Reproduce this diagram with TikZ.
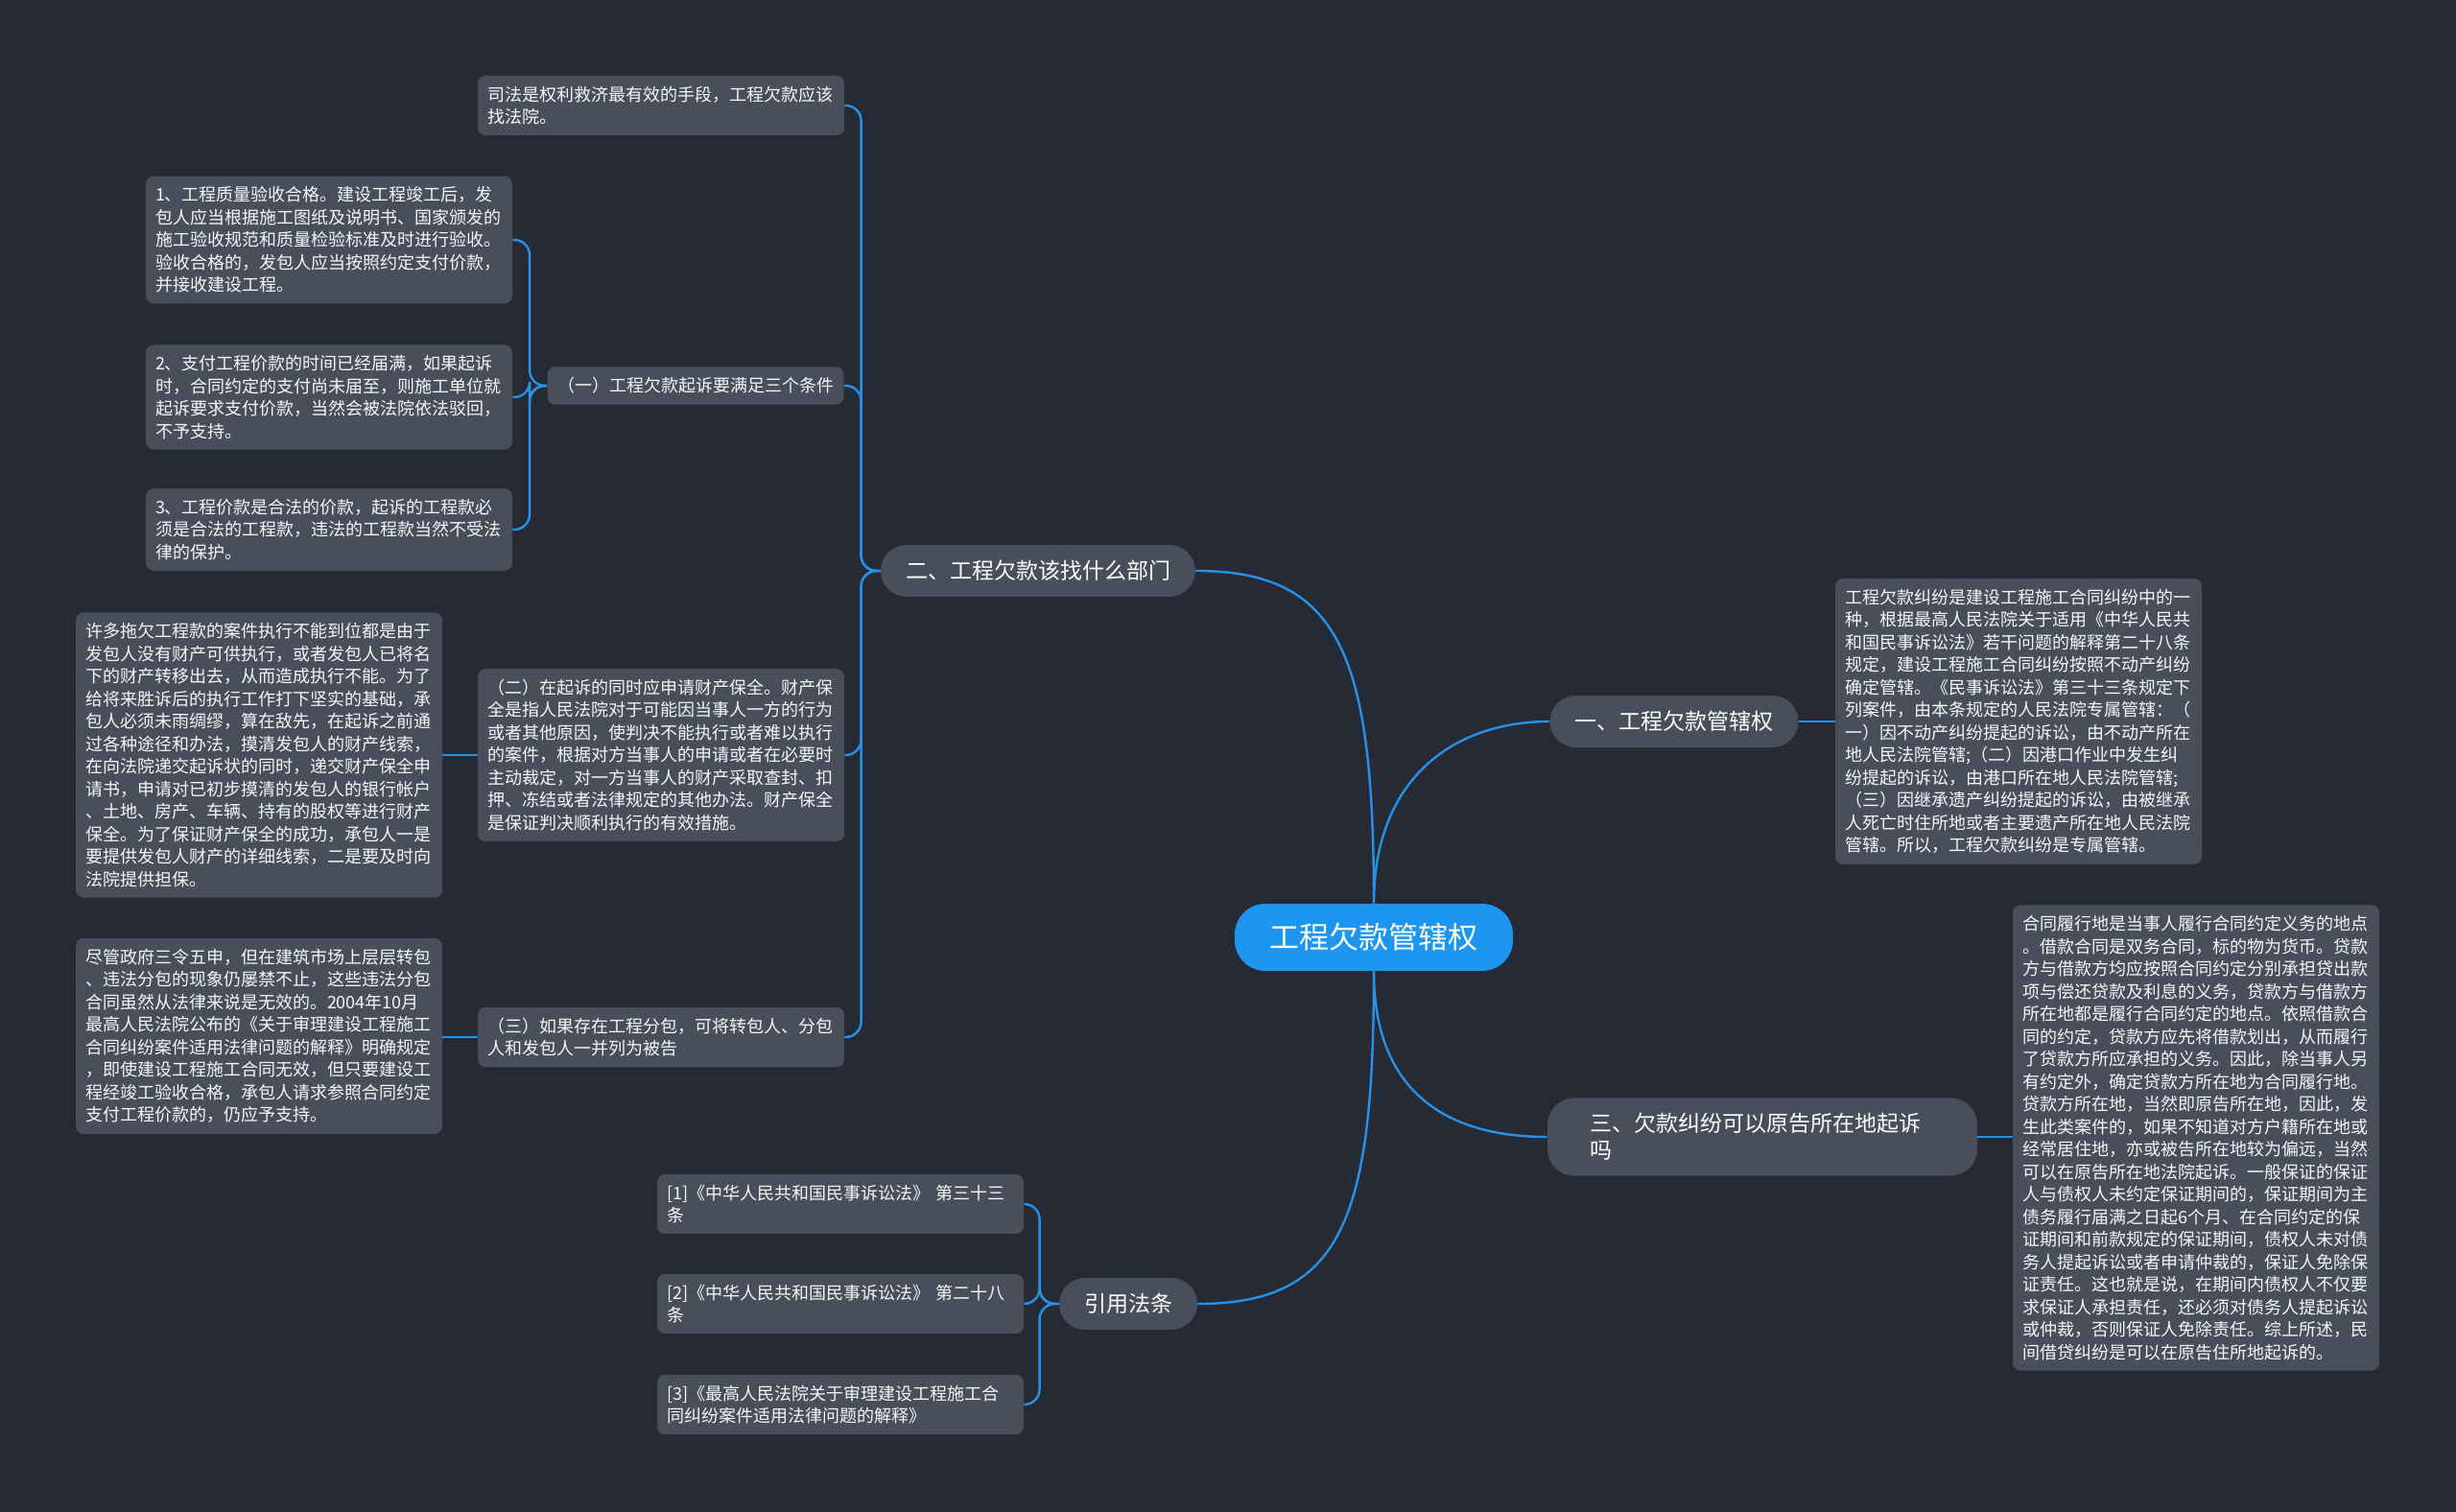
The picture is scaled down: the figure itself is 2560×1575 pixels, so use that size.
\documentclass[tikz,border=0pt]{standalone}
\usepackage{fontspec}
\setmainfont{Noto Sans CJK SC}
\definecolor{bg}{RGB}{38,42,53}
\definecolor{nodegray}{RGB}{73,78,91}
\definecolor{linkblue}{RGB}{40,145,230}
\definecolor{rootblue}{RGB}{30,150,240}
\definecolor{leaftext}{RGB}{245,246,248}
\tikzset{
  boxbase/.style={fill=nodegray, rounded corners=4pt, text=leaftext,
    font=\fontsize{9}{11.75}\selectfont, inner xsep=5pt, inner ysep=5.5pt},
  leaf/.style={boxbase, align=left, text width=181pt},
  branch/.style={fill=nodegray, rounded corners=13.5pt, text=white,
    font=\fontsize{11.5}{14}\selectfont, minimum height=27pt, inner xsep=13pt},
  rootbox/.style={fill=rootblue, rounded corners=16pt, text=white,
    font=\fontsize{15.5}{18}\selectfont, minimum height=35pt, minimum width=145pt},
  link/.style={draw=linkblue, line width=1.2pt}
}
\begin{document}
\begin{tikzpicture}[x=0.5pt,y=-0.5pt]
\useasboundingbox (0,0) rectangle (2560,1575);
\fill[bg] (-20,-20) rectangle (2580,1595);

% root
\node[rootbox] (root) at (1432,977) {工程欠款管辖权};

% branches
\node[branch] (b1) at (1745,752) {一、工程欠款管辖权};
\node[branch, rounded corners=14pt, align=left, text width=180pt, inner xsep=22pt, inner ysep=8pt] (b3) at (1837,1185) {三、欠款纠纷可以原告所在地起诉\\吗};
\node[branch] (b2) at (1082,595) {二、工程欠款该找什么部门};
\node[branch] (b4) at (1176,1359) {引用法条};

% right leaves
\node[leaf] (l1) at (2104,752) {工程欠款纠纷是建设工程施工合同纠纷中的一\\种，根据最高人民法院关于适用《中华人民共\\和国民事诉讼法》若干问题的解释第二十八条\\规定，建设工程施工合同纠纷按照不动产纠纷\\确定管辖。《民事诉讼法》第三十三条规定下\\列案件，由本条规定的人民法院专属管辖：（\\一）因不动产纠纷提起的诉讼，由不动产所在\\地人民法院管辖;（二）因港口作业中发生纠\\纷提起的诉讼，由港口所在地人民法院管辖;\\（三）因继承遗产纠纷提起的诉讼，由被继承\\人死亡时住所地或者主要遗产所在地人民法院\\管辖。所以，工程欠款纠纷是专属管辖。};

\node[leaf] (l3) at (2289,1186) {合同履行地是当事人履行合同约定义务的地点\\。借款合同是双务合同，标的物为货币。贷款\\方与借款方均应按照合同约定分别承担贷出款\\项与偿还贷款及利息的义务，贷款方与借款方\\所在地都是履行合同约定的地点。依照借款合\\同的约定，贷款方应先将借款划出，从而履行\\了贷款方所应承担的义务。因此，除当事人另\\有约定外，确定贷款方所在地为合同履行地。\\贷款方所在地，当然即原告所在地，因此，发\\生此类案件的，如果不知道对方户籍所在地或\\经常居住地，亦或被告所在地较为偏远，当然\\可以在原告所在地法院起诉。一般保证的保证\\人与债权人未约定保证期间的，保证期间为主\\债务履行届满之日起6个月、在合同约定的保\\证期间和前款规定的保证期间，债权人未对债\\务人提起诉讼或者申请仲裁的，保证人免除保\\证责任。这也就是说，在期间内债权人不仅要\\求保证人承担责任，还必须对债务人提起诉讼\\或仲裁，否则保证人免除责任。综上所述，民\\间借贷纠纷是可以在原告住所地起诉的。};

% children of branch 2
\node[leaf] (c1) at (689,110) {司法是权利救济最有效的手段，工程欠款应该\\找法院。};
\node[boxbase, minimum height=18.5pt, minimum width=154.5pt] (c2) at (725,402) {（一）工程欠款起诉要满足三个条件};
\node[leaf] (c2a) at (343,250) {1、工程质量验收合格。建设工程竣工后，发\\包人应当根据施工图纸及说明书、国家颁发的\\施工验收规范和质量检验标准及时进行验收。\\验收合格的，发包人应当按照约定支付价款，\\并接收建设工程。};
\node[leaf] (c2b) at (343,414) {2、支付工程价款的时间已经届满，如果起诉\\时，合同约定的支付尚未届至，则施工单位就\\起诉要求支付价款，当然会被法院依法驳回，\\不予支持。};
\node[leaf] (c2c) at (343,552) {3、工程价款是合法的价款，起诉的工程款必\\须是合法的工程款，违法的工程款当然不受法\\律的保护。};
\node[leaf] (c3) at (689,787) {（二）在起诉的同时应申请财产保全。财产保\\全是指人民法院对于可能因当事人一方的行为\\或者其他原因，使判决不能执行或者难以执行\\的案件，根据对方当事人的申请或者在必要时\\主动裁定，对一方当事人的财产采取查封、扣\\押、冻结或者法律规定的其他办法。财产保全\\是保证判决顺利执行的有效措施。};
\node[leaf] (c3a) at (270,787) {许多拖欠工程款的案件执行不能到位都是由于\\发包人没有财产可供执行，或者发包人已将名\\下的财产转移出去，从而造成执行不能。为了\\给将来胜诉后的执行工作打下坚实的基础，承\\包人必须未雨绸缪，算在敌先，在起诉之前通\\过各种途径和办法，摸清发包人的财产线索，\\在向法院递交起诉状的同时，递交财产保全申\\请书，申请对已初步摸清的发包人的银行帐户\\、土地、房产、车辆、持有的股权等进行财产\\保全。为了保证财产保全的成功，承包人一是\\要提供发包人财产的详细线索，二是要及时向\\法院提供担保。};
\node[leaf] (c4) at (689,1081) {（三）如果存在工程分包，可将转包人、分包\\人和发包人一并列为被告};
\node[leaf] (c4a) at (270,1080) {尽管政府三令五申，但在建筑市场上层层转包\\、违法分包的现象仍屡禁不止，这些违法分包\\合同虽然从法律来说是无效的。2004年10月\\最高人民法院公布的《关于审理建设工程施工\\合同纠纷案件适用法律问题的解释》明确规定\\，即使建设工程施工合同无效，但只要建设工\\程经竣工验收合格，承包人请求参照合同约定\\支付工程价款的，仍应予支持。};

% references
\node[leaf] (r1) at (876,1255) {[1]《中华人民共和国民事诉讼法》 第三十三\\条};
\node[leaf] (r2) at (876,1359) {[2]《中华人民共和国民事诉讼法》 第二十八\\条};
\node[leaf] (r3) at (876,1464) {[3]《最高人民法院关于审理建设工程施工合\\同纠纷案件适用法律问题的解释》};

% root connectors
\draw[link] (root.north) .. controls +(0,-260) and +(150,0) .. (b2.east);
\draw[link] (root.north) .. controls +(0,-130) and +(-100,0) .. (b1.west);
\draw[link] (root.south) .. controls +(0,130) and +(-100,0) .. (b3.west);
\draw[link] (root.south) .. controls +(0,260) and +(150,0) .. (b4.east);

% straight connectors
\draw[link] (b1.east) -- (l1.west);
\draw[link] (b3.east) -- (l3.west |- b3.east);
\draw[link] (c3.west) -- (c3a.east);
\draw[link] (c4.west) -- (c4a.east |- c4.west);

% bracket connectors
\foreach \c in {c1,c2,c3,c4}
  \draw[link, rounded corners=8pt] (b2.west) -- ++(-20,0) |- (\c.east);
\foreach \c in {c2a,c2b,c2c}
  \draw[link, rounded corners=8pt] (c2.west) -- ++(-18,0) |- (\c.east);
\foreach \c in {r1,r2,r3}
  \draw[link, rounded corners=8pt] (b4.west) -- ++(-20,0) |- (\c.east);
\end{tikzpicture}
\end{document}
